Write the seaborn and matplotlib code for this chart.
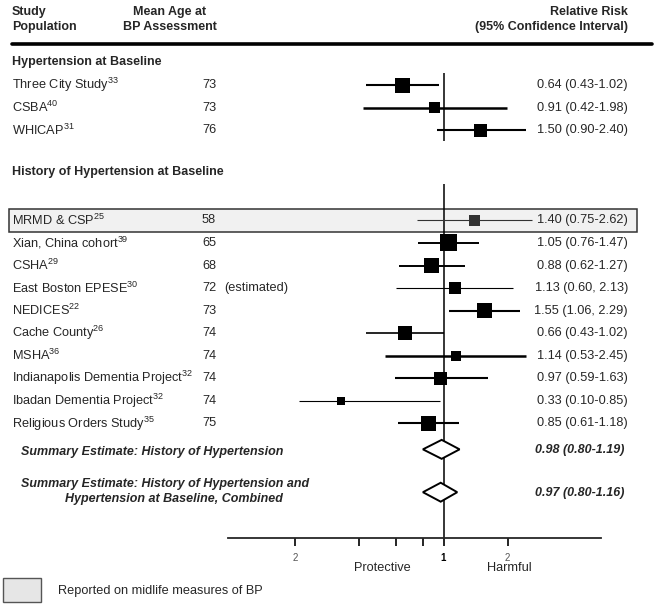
import matplotlib
matplotlib.use("Agg")
import matplotlib.pyplot as plt
import matplotlib.transforms as mtransforms
from matplotlib.lines import Line2D
from matplotlib.patches import Rectangle, Polygon
import numpy as np
import pandas as pd
import seaborn as sns

# ---- data ----
studies = ["Three City Study", "CSBA", "WHICAP", "MRMD & CSP", "Xian, China cohort",
           "CSHA", "East Boston EPESE", "NEDICES", "Cache County", "MSHA",
           "Indianapolis Dementia Project", "Ibadan Dementia Project",
           "Religious Orders Study"]
refs = ["33", "40", "31", "25", "39", "29", "30", "22", "26", "36", "32", "32", "35"]
ages = ["73", "73", "76", "58", "65", "68", "72", "73", "74", "74", "74", "74", "75"]
group = ["baseline"] * 3 + ["history"] * 10
rr = [0.64, 0.91, 1.50, 1.40, 1.05, 0.88, 1.13, 1.55, 0.66, 1.14, 0.97, 0.33, 0.85]
ci_lo = [0.43, 0.42, 0.93, 0.75, 0.76, 0.62, 0.60, 1.06, 0.43, 0.53, 0.59, 0.21, 0.61]
ci_hi = [0.95, 1.98, 2.45, 2.62, 1.47, 1.26, 2.13, 2.29, 1.00, 2.45, 1.62, 0.96, 1.18]
rr_text = ["0.64 (0.43-1.02)", "0.91 (0.42-1.98)", "1.50 (0.90-2.40)",
           "1.40 (0.75-2.62)", "1.05 (0.76-1.47)", "0.88 (0.62-1.27)",
           "1.13 (0.60, 2.13)", "1.55 (1.06, 2.29)", "0.66 (0.43-1.02)",
           "1.14 (0.53-2.45)", "0.97 (0.59-1.63)", "0.33 (0.10-0.85)",
           "0.85 (0.61-1.18)"]
weight = [15, 11, 13, 11, 17, 15, 12, 15, 14, 10, 13, 8, 15]  # box side (px)
midlife = [False, False, False, True] + [False] * 9

summary_labels = ["Summary Estimate: History of Hypertension",
                  "Summary Estimate: History of Hypertension and"]
summary_rr = [0.98, 0.97]
summary_lo = [0.80, 0.80]
summary_hi = [1.19, 1.16]
summary_text = ["0.98 (0.80-1.19)", "0.97 (0.80-1.16)"]

tick_vals = [0.2, 0.4, 0.6, 0.8, 1, 2]
tick_labels = ["2", "", "", "", "1", "2"]

# ---- style ----
ci_lw = [1.5, 1.8, 1.5, 0.8, 1.4, 1.4, 0.8, 1.5, 1.2, 1.8, 1.5, 0.8, 1.5]
W, H, DPI = 655, 607, 100
PX_PT = DPI / 72

sns.set_style("white")
plt.rcParams["font.family"] = ["Liberation Sans", "DejaVu Sans"]
plt.rcParams["mathtext.fontset"] = "custom"
plt.rcParams["mathtext.rm"] = "Liberation Sans"

df = pd.DataFrame({"study": studies, "rr": rr, "lo": ci_lo, "hi": ci_hi,
                   "weight": weight, "group": group})
# row layout: first group on rows 0-2, second group on rows 6-15
df["row"] = [0, 1, 2] + list(range(6, 16))
summary_rows = [16.15, 18.05]

fig = plt.figure(figsize=(W / DPI, H / DPI), dpi=DPI)
ax = fig.add_axes([228 / W, (H - 538) / H, 373 / W, 538 / H])
ax.set_xscale("log")
ax.set_xlim(0.097, 5.5)
ax.set_ylim(20.08, -3.77)

row_tf = mtransforms.blended_transform_factory(fig.transFigure, ax.transData)


def fx(px):
    return px / W


def fy(px):
    return 1 - px / H


# midlife highlight box behind MRMD row
for r, flag in zip(df["row"], midlife):
    if flag:
        ax.add_patch(Rectangle((fx(9), r - 0.5), fx(637) - fx(9), 1.02,
                               transform=row_tf, facecolor="#f1f1f1",
                               edgecolor="#333333", lw=1.1, zorder=0,
                               clip_on=False))

# reference line at RR = 1
ax.vlines(1, -0.53, 2.48, color="black", lw=1.1, zorder=2)
ax.vlines(1, 4.39, 20.08, color="black", lw=1.1, zorder=2)

# confidence intervals
for i, row in df.iterrows():
    col = "#333333" if midlife[i] else "black"
    ax.hlines(row["row"], row["lo"], row["hi"], color=col, lw=ci_lw[i], zorder=3)

# weighted point estimates
size_map = {w: (w / PX_PT) ** 2 for w in set(weight)}
sns.scatterplot(data=df[~np.array(midlife)], x="rr", y="row", size="weight",
                sizes=size_map, marker="s", color="black", edgecolor="none",
                legend=False, ax=ax, zorder=4)
sns.scatterplot(data=df[np.array(midlife)], x="rr", y="row", size="weight",
                sizes=size_map, marker="s", color="#333333", edgecolor="none",
                legend=False, ax=ax, zorder=4)

# summary diamonds
for y, est, lo, hi in zip(summary_rows, summary_rr, summary_lo, summary_hi):
    ax.add_patch(Polygon([(lo, y), (est, y - 0.42), (hi, y), (est, y + 0.42)],
                         closed=True, facecolor="white", edgecolor="black",
                         lw=1.4, zorder=5))

# axes styling
for s in ["top", "left", "right"]:
    ax.spines[s].set_visible(False)
ax.spines["bottom"].set_linewidth(1.3)
ax.set_xticks(tick_vals)
ax.set_xticklabels(tick_labels)
ax.minorticks_off()
ax.set_yticks([])
ax.set_xlabel("")
ax.set_ylabel("")
ax.tick_params(axis="x", which="major", bottom=True, direction="out", length=6,
               width=1.2, pad=5, labelsize=7, colors="black")
for lab in ax.get_xticklabels():
    if lab.get_text() == "1":
        lab.set_fontweight("bold")
    else:
        lab.set_color("#555555")

FS = 9.2
# column headers
fig.text(fx(12), fy(12), "Study", fontsize=9, fontweight="bold", va="center")
fig.text(fx(12), fy(27), "Population", fontsize=9, fontweight="bold", va="center")
fig.text(fx(170), fy(12), "Mean Age at", fontsize=9, fontweight="bold",
         va="center", ha="center")
fig.text(fx(170), fy(27), "BP Assessment", fontsize=9, fontweight="bold",
         va="center", ha="center")
fig.text(fx(628), fy(12), "Relative Risk", fontsize=9, fontweight="bold",
         va="center", ha="right")
fig.text(fx(628), fy(27), "(95% Confidence Interval)", fontsize=9,
         fontweight="bold", va="center", ha="right")
fig.add_artist(Line2D([fx(12), fx(652)], [fy(44), fy(44)], lw=2.6, color="black"))

# group headers
fig.text(fx(12), -1, "Hypertension at Baseline", transform=row_tf, fontsize=9,
         fontweight="bold", va="center")
fig.text(fx(12), 3.86, "History of Hypertension at Baseline", transform=row_tf,
         fontsize=9, fontweight="bold", va="center")

# study rows
for i, row in df.iterrows():
    y = row["row"]
    fig.text(fx(12), y, f"{studies[i]}$^{{\\mathrm{{{refs[i]}}}}}$",
             transform=row_tf, fontsize=FS, va="center")
    fig.text(fx(202), y, ages[i], transform=row_tf, fontsize=FS, va="center")
    fig.text(fx(628), y, rr_text[i], transform=row_tf, fontsize=FS,
             va="center", ha="right")
    if studies[i] == "East Boston EPESE":
        fig.text(fx(224), y, "(estimated)", transform=row_tf, fontsize=FS,
                 va="center")

# summary rows
fig.text(fx(21), summary_rows[0] + 0.1, summary_labels[0], transform=row_tf,
         fontsize=9, fontweight="bold", style="italic", va="center")
fig.text(fx(21), summary_rows[1] - 0.36, summary_labels[1], transform=row_tf,
         fontsize=9, fontweight="bold", style="italic", va="center")
fig.text(fx(65), summary_rows[1] + 0.3, "Hypertension at Baseline, Combined",
         transform=row_tf, fontsize=9, fontweight="bold", style="italic",
         va="center")
for y, t in zip(summary_rows, summary_text):
    fig.text(fx(624), y + 0.05, t, transform=row_tf, fontsize=9,
             fontweight="bold", style="italic", va="center", ha="right")

# direction labels
fig.text(fx(382), fy(568), "Protective", fontsize=FS, ha="center", va="center")
fig.text(fx(509), fy(568), "Harmful", fontsize=FS, ha="center", va="center")

# legend for midlife box
fig.add_artist(Rectangle((fx(3), fy(602)), fx(41) - fx(3), fy(578) - fy(602),
                         transform=fig.transFigure, facecolor="#e6e6e6",
                         edgecolor="#555555", lw=1.0))
fig.text(fx(58), fy(591), "Reported on midlife measures of BP", fontsize=FS,
         va="center")

fig.savefig("out.png", dpi=DPI, facecolor="white")
plt.close(fig)
